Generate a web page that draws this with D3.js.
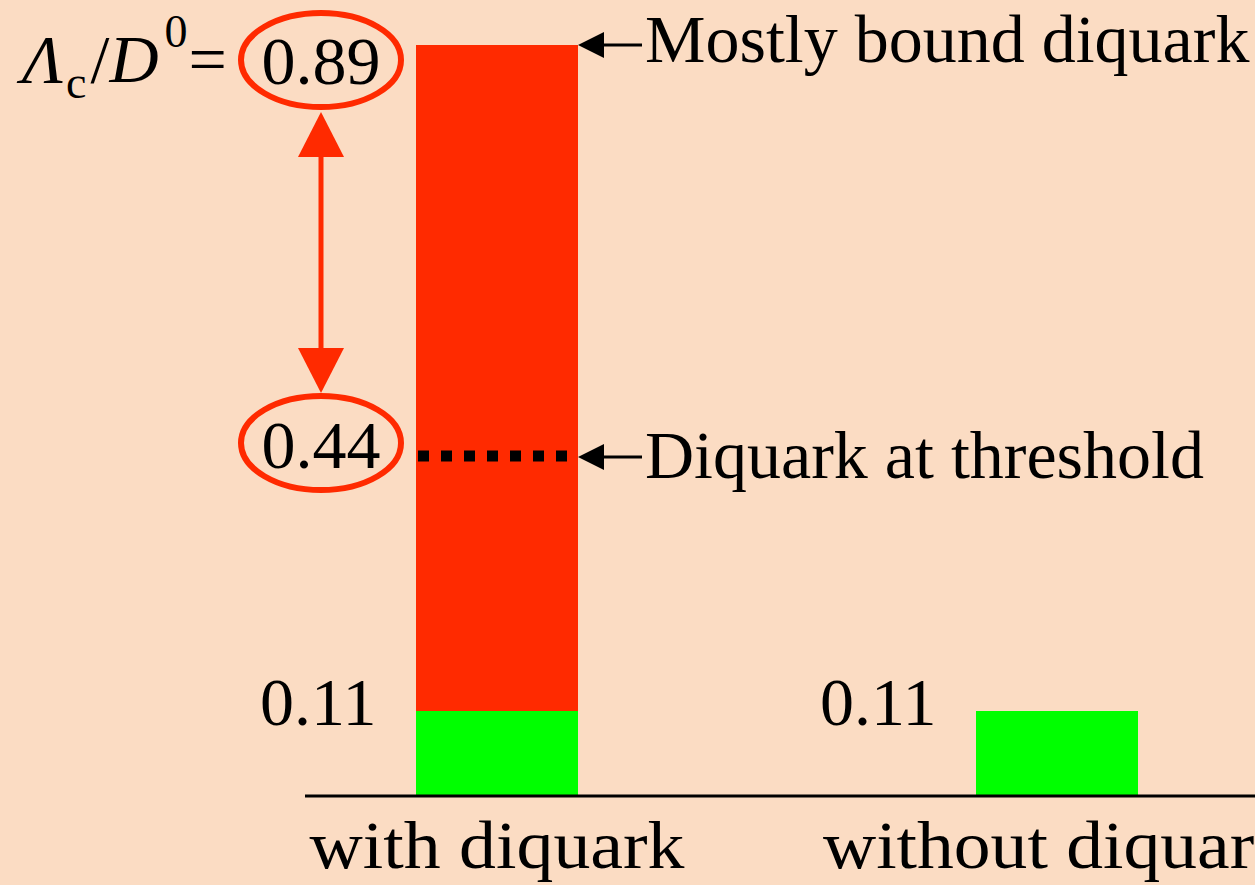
<!DOCTYPE html>
<html>
<head>
<meta charset="utf-8">
<script src="https://cdn.jsdelivr.net/npm/d3@7"></script>
<style>
  html, body { margin: 0; padding: 0; background: #FBDCC3; }
  svg { display: block; }
</style>
</head>
<body>
<svg id="chart" width="1255" height="885"></svg>
<script>
// Λc/D0 ratio, with and without diquark correlations
const categories = ["with diquark", "without diquark"];
const baseValues = [0.11, 0.11];          // green part of each bar
const boundValue = 0.89;                  // mostly bound diquark (top of red bar)
const thresholdValue = 0.44;              // diquark at threshold (dotted line)
const barLabels = ["0.11", "0.11"];
const boundLabel = "0.89";
const thresholdLabel = "0.44";
const annotations = ["Mostly bound diquark", "Diquark at threshold"];
const categoryLabelWidths = [375, 468];

const RED = "#FF2A00", GREEN = "#00FF00";
const FONT = '"Liberation Serif", "Times New Roman", serif';

const svg = d3.select("#chart").style("font-family", FONT);
svg.append("rect").attr("width", 1255).attr("height", 885).attr("fill", "#FBDCC3");

// Slide-style value axis: not to scale, the marked levels sit at set heights
const y = d3.scaleLinear()
  .domain([0, 0.11, 0.44, 0.89])
  .range([796, 711, 456, 45]);

const x = d3.scalePoint().domain(categories).range([497, 1057]);
const barW = 162;

// red bar: from the base value up to the bound-diquark value (first category only)
svg.append("rect")
  .attr("x", x(categories[0]) - barW / 2)
  .attr("y", y(boundValue))
  .attr("width", barW)
  .attr("height", y(baseValues[0]) - y(boundValue))
  .attr("fill", RED);

// green bars
svg.selectAll("rect.base").data(categories).join("rect")
  .attr("class", "base")
  .attr("x", d => x(d) - barW / 2)
  .attr("y", (d, i) => y(baseValues[i]))
  .attr("width", barW)
  .attr("height", (d, i) => y(0) - y(baseValues[i]))
  .attr("fill", GREEN);

// threshold dotted line across the red bar
svg.append("line")
  .attr("x1", x(categories[0]) - barW / 2 + 2)
  .attr("x2", x(categories[0]) + barW / 2)
  .attr("y1", y(thresholdValue)).attr("y2", y(thresholdValue))
  .attr("stroke", "#000").attr("stroke-width", 11)
  .attr("stroke-dasharray", "11,12");

// baseline
svg.append("line")
  .attr("x1", 305).attr("x2", 1255)
  .attr("y1", y(0)).attr("y2", y(0))
  .attr("stroke", "#000").attr("stroke-width", 3);

// category labels
svg.selectAll("text.cat").data(categories).join("text")
  .attr("class", "cat")
  .attr("x", d => x(d))
  .attr("y", 868)
  .attr("text-anchor", "middle")
  .attr("font-size", 68)
  .attr("textLength", (d, i) => categoryLabelWidths[i])
  .attr("lengthAdjust", "spacingAndGlyphs")
  .text(d => d);

// base value labels
svg.selectAll("text.val").data(categories).join("text")
  .attr("class", "val")
  .attr("x", d => x(d) - barW / 2 - 156)
  .attr("y", (d, i) => y(baseValues[i]) + 14)
  .attr("font-size", 68)
  .text((d, i) => barLabels[i]);

// circled values for the bound and threshold cases
const labelX = 321;
[[boundValue, boundLabel, 60, 84], [thresholdValue, thresholdLabel, 443, 468]].forEach(([v, t, cy, by]) => {
  svg.append("ellipse")
    .attr("cx", labelX).attr("cy", cy)
    .attr("rx", 80).attr("ry", 47)
    .attr("fill", "none").attr("stroke", RED).attr("stroke-width", 6);
  svg.append("text")
    .attr("x", labelX).attr("y", by)
    .attr("text-anchor", "middle")
    .attr("font-size", 68)
    .text(t);
});

// double-headed arrow between the two circled values
svg.append("line")
  .attr("x1", labelX).attr("x2", labelX)
  .attr("y1", 150).attr("y2", 355)
  .attr("stroke", RED).attr("stroke-width", 5);
svg.append("path")
  .attr("d", d3.line()([[labelX, 112], [labelX - 23, 157], [labelX + 23, 157]]) + "Z")
  .attr("fill", RED);
svg.append("path")
  .attr("d", d3.line()([[labelX, 393], [labelX - 23, 348], [labelX + 23, 348]]) + "Z")
  .attr("fill", RED);

// ratio label, flowing left to right
const ratio = svg.append("text").attr("x", 22).attr("y", 82).attr("font-size", 68);
ratio.append("tspan").attr("font-style", "italic").text("Λ");
ratio.append("tspan").attr("font-size", 46).attr("dx", 3).attr("dy", 16).text("c");
ratio.append("tspan").attr("dx", 4).attr("dy", -16).text("/");
ratio.append("tspan").attr("font-style", "italic").attr("dx", 0).text("D");
ratio.append("tspan").attr("font-size", 46).attr("dx", 6).attr("dy", -35).text("0");
ratio.append("tspan").attr("dx", 1).attr("dy", 35).text("=");

// pointer arrows with annotations
const barRight = x(categories[0]) + barW / 2;
[[boundValue, annotations[0], 62], [thresholdValue, annotations[1], 478]].forEach(([v, t, by], i) => {
  const yy = y(v) + (i === 1 ? 1 : 0);
  svg.append("line")
    .attr("x1", barRight + 12).attr("x2", 642)
    .attr("y1", yy).attr("y2", yy)
    .attr("stroke", "#000").attr("stroke-width", 3);
  svg.append("path")
    .attr("d", d3.line()([[barRight, yy], [barRight + 26, yy - 13], [barRight + 26, yy + 13]]) + "Z")
    .attr("fill", "#000");
  svg.append("text")
    .attr("x", 645).attr("y", by)
    .attr("font-size", 68)
    .text(t);
});
</script>
</body>
</html>
